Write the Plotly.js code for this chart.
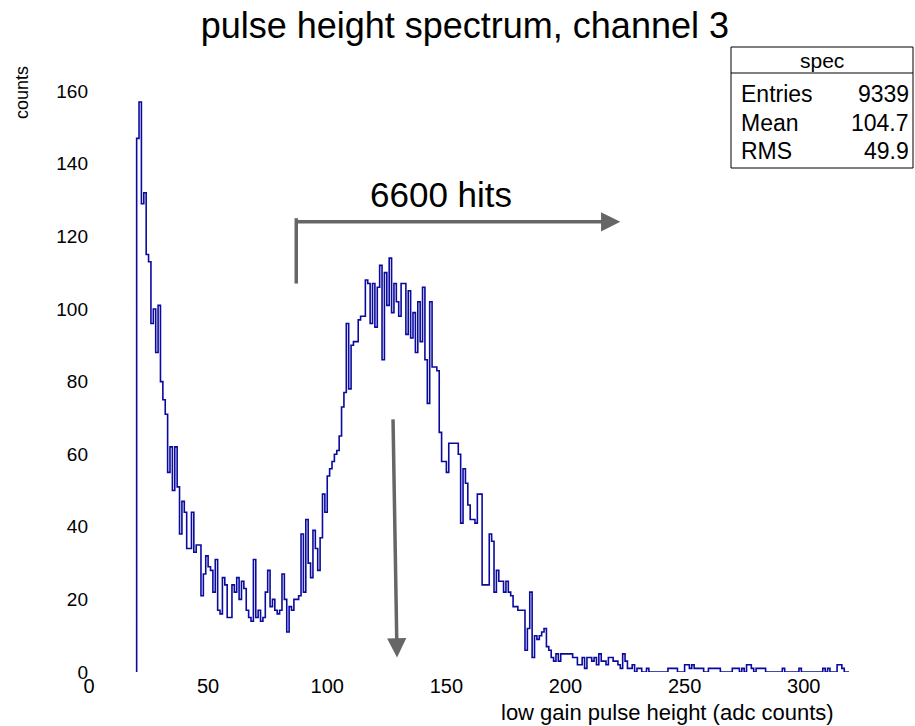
<!DOCTYPE html>
<html>
<head>
<meta charset="utf-8">
<script src="https://cdn.plot.ly/plotly-3.0.1.min.js"></script>
<style>body{margin:0;background:#fff}#plot{width:915px;height:726px}</style>
</head>
<body>
<div id="plot"></div>
<script>
// histogram "spec": 1 adc count per bin, first filled bin at 20
var binStart = 20;
var counts = [
  147,157,129,132,115,113,96,100,88,101,80,75,71,55,62,50,62,51,38,47,   // 20-39
  44,34,34,44,33,35,35,21,27,32,29,28,22,31,17,16,26,24,15,15,           // 40-59
  24,22,26,20,25,23,17,15,14,31,15,17,14,15,22,28,18,20,17,16,           // 60-79
  17,27,20,11,18,17,20,20,21,38,22,42,30,26,39,34,28,37,49,44,           // 80-99
  54,56,58,60,61,65,73,77,96,78,90,91,91,97,98,98,108,107,96,107,         // 100-119
  95,106,112,86,110,101,114,99,107,102,98,107,107,93,105,92,99,88,102,91, // 120-139
  106,86,74,102,84,84,83,66,58,58,55,63,63,63,63,60,41,56,52,46,          // 140-159
  42,42,41,49,49,24,24,24,38,36,22,28,25,25,22,25,22,21,18,18,            // 160-179
  17,17,17,6,12,22,4,10,9,10,11,12,7,6,4,3,5,3,5,5,                       // 180-199
  5,5,5,4,4,2,2,4,1,4,4,3,4,2,5,3,3,2,4,4,                                // 200-219
  3,3,2,1,5,3,1,1,2,0,1,1,0,0,1,0,0,0,0,0,                                // 220-239
  0,0,0,1,1,1,1,0,0,0,2,2,1,2,1,1,1,1,0,0,                                // 240-259
  1,1,1,1,1,0,0,0,0,0,1,1,1,0,1,0,2,2,1,0,                                // 260-279
  1,1,1,1,0,0,0,0,0,0,0,1,0,0,0,0,0,0,1,0,                                // 280-299
  0,0,0,0,0,0,0,0,1,0,1,0,0,0,2,2,1,0,0,0                                 // 300-319
];
var statNames = ['Entries','Mean','RMS'];
var statValues = ['9339','104.7','49.9'];
var xRange = [0, 319], yRange = [0, 165];

// step outline from bin edges
var xs = [binStart], ys = [0];
counts.forEach(function(c, i){ xs.push(binStart + i); ys.push(c); });
xs.push(binStart + counts.length); ys.push(counts[counts.length-1]);
xs.push(binStart + counts.length); ys.push(0);

var trace = {
  x: xs, y: ys, type: 'scatter', mode: 'lines', xaxis: 'x2', yaxis: 'y2',
  line: {shape: 'hv', color: '#0a0a9e', width: 1.6},
  hoverinfo: 'skip'
};

var L = 89, R = 849, T = 73, B = 672;
function px(x){ return (x - L) / (R - L); }
function py(y){ return (B - y) / (B - T); }
var font = {family: 'Liberation Sans, Arial, sans-serif', color: '#000'};
function f(s){ return Object.assign({size: s}, font); }

var shapes = [
  {type:'rect', xref:'paper', yref:'paper', x0:px(731), x1:px(913), y0:py(168), y1:py(47),
   line:{color:'#000', width:1}, fillcolor:'#fff', layer:'above'},
  {type:'line', xref:'paper', yref:'paper', x0:px(731), x1:px(913), y0:py(73), y1:py(73),
   line:{color:'#000', width:1}},
  {type:'line', xref:'x2', yref:'y2', x0:87, x1:87, y0:107, y1:125, line:{color:'#666', width:3.5}}
];

var annotations = [
  {xref:'paper', yref:'paper', x:px(822), y:py(60), xanchor:'center', yanchor:'middle',
   text:'spec', showarrow:false, font:f(21)},
  {xref:'x2', yref:'y2', x:223, y:124, ax:87, ay:124, axref:'x2', ayref:'y2', text:'', showarrow:true,
   arrowhead:2, arrowsize:1.1, arrowwidth:3.5, arrowcolor:'#666'},
  {xref:'x2', yref:'y2', x:129.3, y:4, ax:127.6, ay:70, axref:'x2', ayref:'y2', text:'', showarrow:true,
   arrowhead:2, arrowsize:1.1, arrowwidth:3.5, arrowcolor:'#666'},
  {xref:'paper', yref:'paper', x:px(441), y:py(195), xanchor:'center', yanchor:'middle',
   text:'6600 hits', showarrow:false, font:f(35)},
  {xref:'paper', yref:'paper', x:px(22), y:py(93), xanchor:'center', yanchor:'middle',
   text:'counts', textangle:-90, showarrow:false, font:f(18)},
  {xref:'paper', yref:'paper', x:px(836), y:py(712), xanchor:'right', yanchor:'middle',
   text:'low gain pulse height (adc counts)', showarrow:false, font:f(22)}
];
statNames.forEach(function(n, i){
  var yy = py(94 + i * 28.5);
  annotations.push({xref:'paper', yref:'paper', x:px(739), y:yy, xanchor:'left', yanchor:'middle',
    text:n, showarrow:false, font:f(23)});
  annotations.push({xref:'paper', yref:'paper', x:px(911), y:yy, xanchor:'right', yanchor:'middle',
    text:statValues[i], showarrow:false, font:f(23)});
});

// tick axes: placed on the far side so their mirrored (inside) ticks land bottom / left
var tickAxis = {
  ticks: 'inside', ticklen: 14, tickwidth: 1.5, tickcolor: '#000', showticklabels: false,
  showgrid: false, zeroline: false, showline: true, linecolor: '#000', linewidth: 1, mirror: 'ticks'
};
var labelAxis = {
  ticks: '', showgrid: false, zeroline: false, showline: false
};

var layout = {
  width: 915, height: 726,
  margin: {l: L, r: 915 - R, t: T, b: 726 - B},
  paper_bgcolor: '#fff', plot_bgcolor: 'rgba(0,0,0,0)',
  showlegend: false,
  title: {text: 'pulse height spectrum, channel 3', x: 0.508, xanchor: 'center',
          y: 1 - 25 / 726, yanchor: 'middle', font: f(36)},
  xaxis: Object.assign({range: xRange, tick0: 0, dtick: 50, side: 'top',
          minor: {dtick: 10, ticks: 'inside', ticklen: 7, tickwidth: 1.5, tickcolor: '#000', showgrid: false}},
          tickAxis),
  yaxis: Object.assign({range: yRange, tick0: 0, dtick: 20, side: 'right',
          minor: {dtick: 4, ticks: 'inside', ticklen: 7, tickwidth: 1.5, tickcolor: '#000', showgrid: false}},
          tickAxis),
  xaxis2: Object.assign({range: xRange, tick0: 0, dtick: 50, overlaying: 'x', anchor: 'y2',
          side: 'bottom', tickfont: f(20)}, labelAxis),
  yaxis2: Object.assign({range: yRange, tick0: 0, dtick: 20, overlaying: 'y', anchor: 'x2',
          side: 'left', tickfont: f(19)}, labelAxis),
  shapes: shapes,
  annotations: annotations
};

Plotly.newPlot('plot', [trace], layout, {displayModeBar: false});
</script>
</body>
</html>
